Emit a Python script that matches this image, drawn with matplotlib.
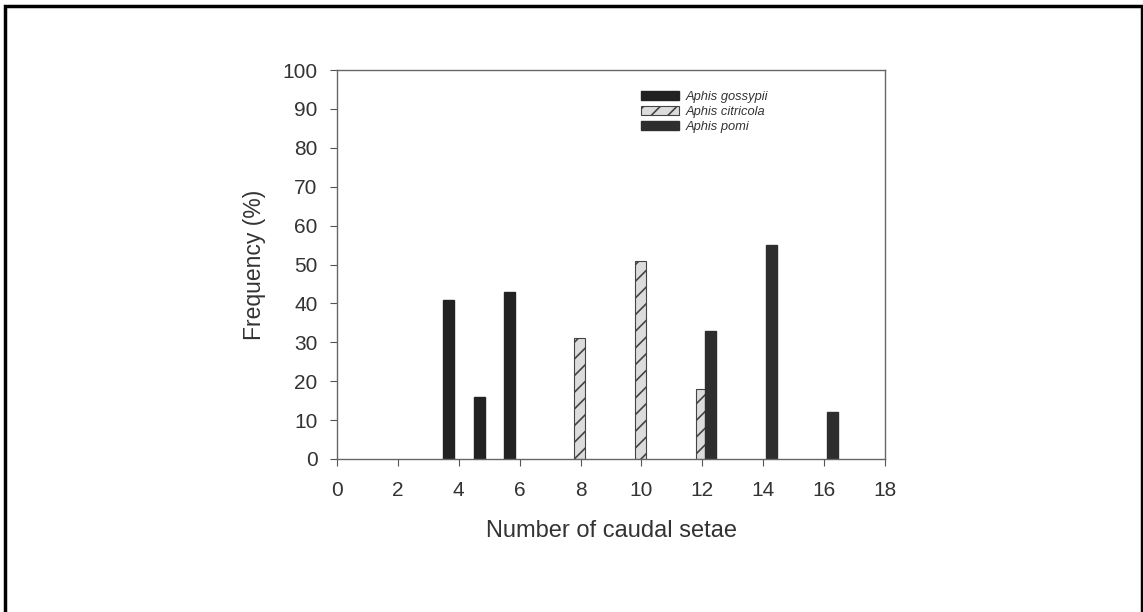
import numpy as np
import matplotlib.pyplot as plt
from matplotlib import patches

plt.rcParams['font.family'] = ['Liberation Sans', 'DejaVu Sans']
plt.rcParams['hatch.linewidth'] = 1.2

species = ["Aphis gossypii", "Aphis citricola", "Aphis pomi"]
gossypii_setae = [4, 5, 6]
gossypii_freq = [41, 16, 43]
citricola_setae = [8, 10, 12]
citricola_freq = [31, 51, 18]
pomi_setae = [12, 14, 16]
pomi_freq = [33, 55, 12]
x_ticks = list(range(0, 19, 2))
y_ticks = list(range(0, 101, 10))

W, H = 1143, 612
my_dpi = 100
fig = plt.figure(figsize=(W / my_dpi, H / my_dpi), dpi=my_dpi)

# outer frame of the scanned page (no bottom edge)
frame = patches.Rectangle((5 / W, -0.1), (W - 6) / W, (H - 6) / H + 0.1,
                          transform=fig.transFigure, fill=False,
                          edgecolor="black", linewidth=2.5)
fig.add_artist(frame)

ax = fig.add_axes([337 / W, 153 / H, 548 / W, 389 / H])

bw = 0.37
ax.bar(np.array(gossypii_setae) - 0.33, gossypii_freq, width=bw,
       color="#222222", edgecolor="#222222", label=species[0])
ax.bar(np.array(citricola_setae) - 0.03, citricola_freq, width=bw,
       color="#dcdcdc", edgecolor="#444444", hatch="//", linewidth=0.8,
       label=species[1])
ax.bar(np.array(pomi_setae) + 0.27, pomi_freq, width=bw,
       color="#2e2e2e", edgecolor="#2e2e2e", label=species[2])

ax.set_xlim(0, 18)
ax.set_ylim(0, 100)
ax.set_xticks(x_ticks)
ax.set_yticks(y_ticks)
ax.tick_params(direction="out", length=5, width=0.8, color="#555555",
               labelsize=15, labelcolor="#333333")
ax.tick_params(axis="x", pad=11)
ax.tick_params(axis="y", pad=9)
for s in ax.spines.values():
    s.set_color("#666666")
    s.set_linewidth(1.0)

ax.set_xlabel("Number of caudal setae", fontsize=17, color="#333333", labelpad=14)
ax.set_ylabel("Frequency (%)", fontsize=16.5, color="#333333", labelpad=12)

leg = ax.legend(loc="upper left", bbox_to_anchor=(0.533, 0.975), frameon=False,
                prop={"style": "italic", "size": 9.3}, handlelength=3.0,
                handleheight=0.7, labelspacing=0.2, handletextpad=0.5)
for t in leg.get_texts():
    t.set_color("#333333")

fig.savefig("out.png", dpi=my_dpi)
